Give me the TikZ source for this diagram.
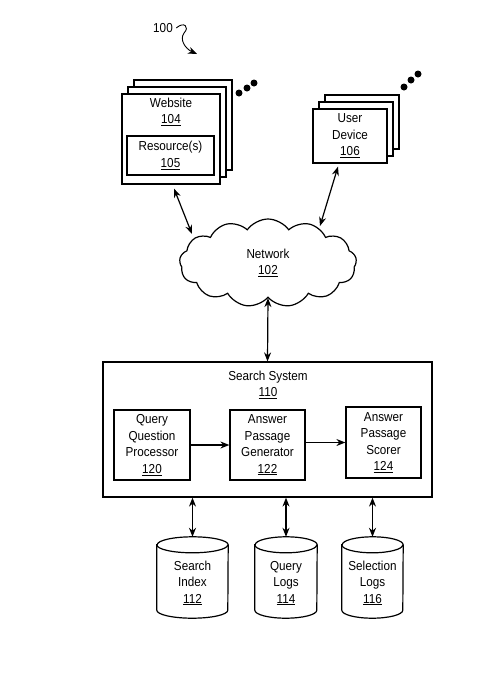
\documentclass[tikz,border=0pt]{standalone}
\usepackage{fontspec}
\setmainfont{Liberation Sans}[FakeStretch=0.9]
\usepackage{tikz}
\usetikzlibrary{shapes,arrows,arrows.meta,positioning,calc}
\tikzset{
    page/.style={draw, rectangle, fill=white, line width=1.2pt, inner sep=0pt},
    block/.style={draw, rectangle, fill=white, line width=1.2pt, minimum width=76pt, minimum height=70pt, text centered, align=center, inner sep=0pt},
    storebox/.style={rectangle, inner sep=0pt, minimum height=81pt},
    arrow/.style={-{Stealth[length=9pt, width=7pt]}, line width=1.2pt},
    both/.style={{Stealth[length=9pt, width=7pt]}-{Stealth[length=9pt, width=7pt]}, line width=1.2pt},
    dot/.style={circle, fill=black, inner sep=0pt, minimum size=7pt}
}
% cylinder drawn round a named box: #1 node, #2 half width
\newcommand{\dbcyl}[2]{%
    \draw[line width=1.2pt, fill=white] ($(#1.north west)+(0,8)$) -- ($(#1.south west)+(0,-8)$)
        arc[start angle=180, end angle=360, x radius=#2, y radius=8pt] -- ($(#1.north east)+(0,8)$)
        arc[start angle=0, end angle=180, x radius=#2, y radius=8pt] -- cycle;
    \draw[line width=1.2pt] ($(#1.north west)+(0,8)$) arc[start angle=180, end angle=360, x radius=#2, y radius=8pt];
}
\begin{document}
\begin{tikzpicture}[x=1pt, y=-1pt, font=\fontsize{13}{16.5}\selectfont]
        \useasboundingbox (0,0) rectangle (500,673);
        % Figure number
        \node (fig) at (163,28) {100};
        \coordinate (figtip) at (197,54);
        \draw[arrow, line width=0.9pt] (fig.east) .. controls (184,21) and (190,27) .. (184,33) .. controls (179,40) and (186,49) .. (figtip);

        % Website stack
        \node[page, minimum width=98pt, minimum height=90pt] (web3) at (183,125) {};
        \node[page, minimum width=98pt, minimum height=90pt] (web2) at (177,132) {};
        \node[page, minimum width=98pt, minimum height=90pt] (web) at (171,139) {};
        \node[align=center] (webtxt) at (171,112) {Website\\\underline{104}};
        \node[page, minimum width=87pt, minimum height=39pt, align=center] (res) at (170.5,155.5) {Resource(s)\\\underline{105}};
        \node[dot] (wd1) at (239,93) {};
        \node[dot] (wd2) at (247,88) {};
        \node[dot] (wd3) at (254,83) {};

        % User device stack
        \node[page, minimum width=74pt, minimum height=54pt] (dev3) at (362,122) {};
        \node[page, minimum width=74pt, minimum height=54pt] (dev2) at (356,129) {};
        \node[page, minimum width=74pt, minimum height=54pt, align=center] (dev) at (350,136) {User\\Device\\\underline{106}};
        \node[dot] (ud1) at (404,87) {};
        \node[dot] (ud2) at (411,80) {};
        \node[dot] (ud3) at (418,74) {};

        % Network
        \node[cloud, draw, line width=1.2pt, cloud puffs=13, cloud puff arc=110, aspect=2, minimum width=177pt, minimum height=88pt, inner sep=0pt, align=center] (net) at (268,263) {Network\\\underline{102}};

        % Search system
        \node[page, minimum width=329pt, minimum height=135pt] (sys) at (267.5,429.5) {};
        \node[align=center] (systxt) at (268,385) {Search System\\\underline{110}};
        \node[block] (qqp) at (152,445) {Query\\Question\\Processor\\\underline{120}};
        \node[block, minimum width=75pt] (apg) at (267.5,445) {Answer\\Passage\\Generator\\\underline{122}};
        \node[block, minimum width=75pt, minimum height=71pt] (aps) at (383.5,442.5) {Answer\\Passage\\Scorer\\\underline{124}};

        % Data stores
        \node[storebox, minimum width=71pt] (idx) at (192.5,577.5) {};
        \node[storebox, minimum width=62pt] (qlog) at (286,577.5) {};
        \node[storebox, minimum width=61pt] (slog) at (372.5,577.5) {};
        \dbcyl{idx}{35.5pt}
        \dbcyl{qlog}{31pt}
        \dbcyl{slog}{30.5pt}
        \node[align=center] (idxtxt) at (192.5,583) {Search\\Index\\\underline{112}};
        \node[align=center] (qlogtxt) at (286,583) {Query\\Logs\\\underline{114}};
        \node[align=center] (slogtxt) at (372.5,583) {Selection\\Logs\\\underline{116}};

        % Connections
        \draw[both] ($(web.south)+(3,4)$) -- ($(net.center)+(-76,-29)$);
        \draw[both] ($(dev.south)+(-12,3)$) -- ($(net.center)+(52,-37)$);
        \draw[both] (net.south) -- (sys.north);
        \draw[arrow] (qqp) -- (apg);
        \draw[arrow] (apg.east |- aps) -- (aps);
        \draw[both] (sys.south -| idx.north) -- (idx.north);
        \draw[both] (sys.south -| qlog.north) -- (qlog.north);
        \draw[both] (sys.south -| slog.north) -- (slog.north);
    \end{tikzpicture}
\end{document}
